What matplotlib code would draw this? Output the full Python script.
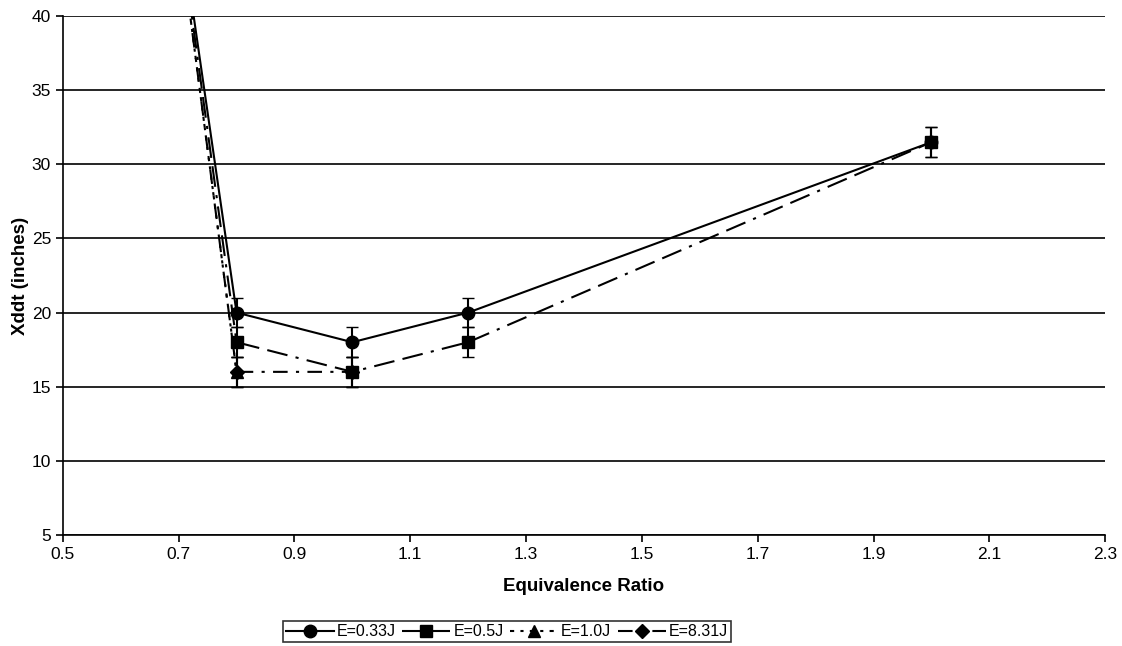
import matplotlib.pyplot as plt
from matplotlib.lines import Line2D
import numpy as np

plt.rcParams['font.family'] = ['Liberation Sans', 'DejaVu Sans']

# Values
phi = [0.7, 0.8, 1.0, 1.2, 2.0]
xddt_033 = [47, 20, 18, 20, 31.5]
xddt_05 = [46.5, 18, 16, 18, 31.5]
phi_10 = [0.7, 0.8]
xddt_10 = [46, 16]
phi_831 = [0.7, 0.8, 1.0]
xddt_831 = [46, 16, 16]
err = 1.0
labels = ['E=0.33J', 'E=0.5J', 'E=1.0J', 'E=8.31J']

styles = [
    dict(marker='o', linestyle='-', markersize=9),
    dict(marker='s', linestyle=(0, (10, 4, 10, 4, 1.5, 4)), markersize=9),
    dict(marker='^', linestyle=(0, (2, 3, 1.5, 3)), markersize=8),
    dict(marker='D', linestyle=(0, (7, 4, 1.5, 4)), markersize=7),
]

fig = plt.figure(figsize=(11.22, 6.46), dpi=100)
ax = fig.add_axes([0.056, 0.172, 0.929, 0.803])

series = [(phi, xddt_033), (phi, xddt_05), (phi_10, xddt_10), (phi_831, xddt_831)]
for (xs, ys), st in zip(series, styles):
    yerr = [0] + [err] * (len(xs) - 1)
    ax.errorbar(xs, ys, yerr=yerr, color='black', linewidth=1.5, capsize=4,
                elinewidth=1.5, **st)

ax.set_xlim(0.5, 2.3)
ax.set_ylim(5, 40)
ax.set_xticks(np.arange(0.5, 2.31, 0.2))
ax.set_xticklabels(['0.5', '0.7', '0.9', '1.1', '1.3', '1.5', '1.7', '1.9', '2.1', '2.3'])
ax.set_yticks(range(5, 41, 5))
ax.yaxis.grid(True, color='black', linewidth=1.2)
ax.set_axisbelow(True)
for side in ['top', 'right']:
    ax.spines[side].set_visible(False)
ax.spines['left'].set_linewidth(1.2)
ax.spines['bottom'].set_linewidth(1.2)
ax.tick_params(axis='both', labelsize=12.5, direction='out', length=5, width=1.2)

ax.set_xlabel('Equivalence Ratio', fontsize=13.5, fontweight='bold', labelpad=12)
ax.set_ylabel('Xddt (inches)', fontsize=13.5, fontweight='bold', labelpad=2)

handles = [Line2D([], [], color='black', linewidth=1.5, **st) for st in styles]
leg = fig.legend(handles, labels, loc='upper left', ncol=4, fontsize=11.5,
                 frameon=True, fancybox=False, edgecolor='black', handlelength=3,
                 columnspacing=0.4, handletextpad=0.2, borderpad=0.2, borderaxespad=0)
leg.set_bbox_to_anchor((0.252, 1 - 621 / 646), transform=fig.transFigure)
leg.get_frame().set_linewidth(1.2)

fig.savefig('out.png', dpi=100)
